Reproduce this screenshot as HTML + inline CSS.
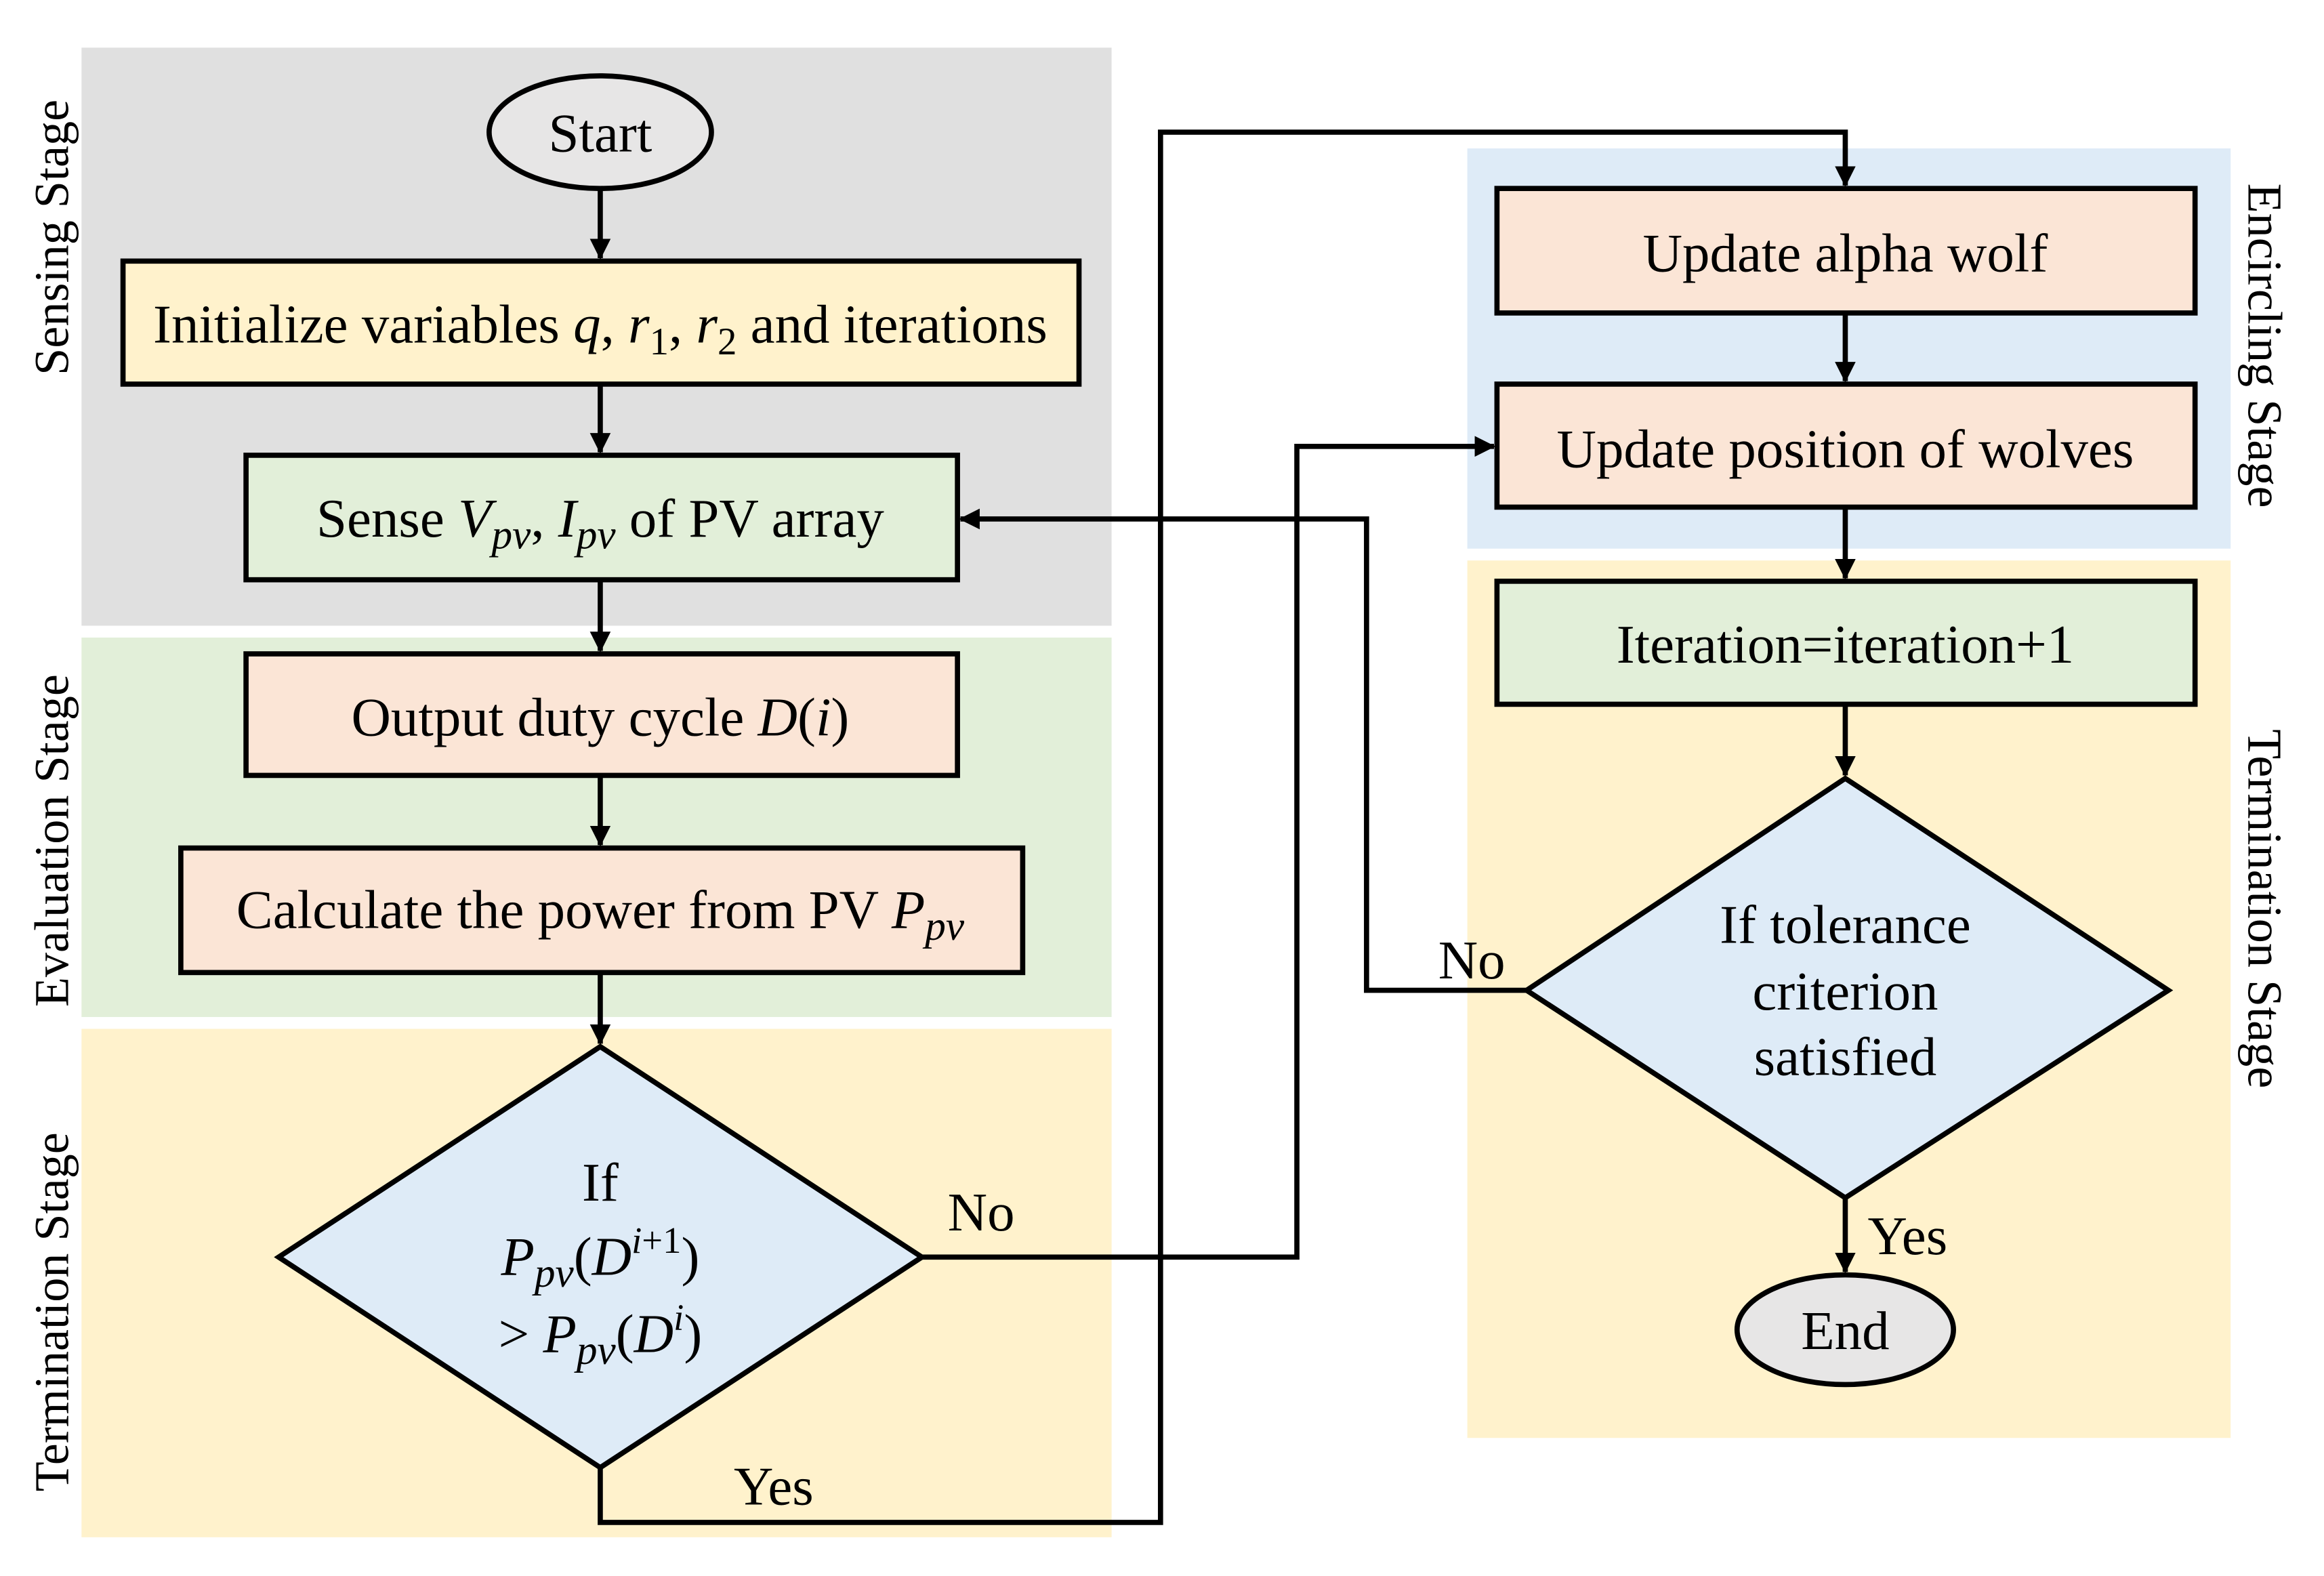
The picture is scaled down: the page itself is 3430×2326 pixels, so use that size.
<!DOCTYPE html>
<html><head><meta charset="utf-8"><style>
html,body{margin:0;padding:0;background:#fff;}
svg{display:block;}
text{font-family:"Liberation Serif",serif;font-size:37px;fill:#000;}
.s{font-size:33px;}
.i{font-style:italic;}
</style></head><body>
<svg width="3430" height="2326" viewBox="0 0 1568 1063" xmlns="http://www.w3.org/2000/svg">
<defs>
<marker id="b" markerWidth="14" markerHeight="14" refX="13" refY="7" orient="auto" markerUnits="userSpaceOnUse" viewBox="0 0 14 14"><path d="M0,0 L14,7 L0,14 z" fill="#000"/></marker></defs>
<rect width="1568" height="1063" fill="#fff"/>
<rect x="55" y="32" width="695" height="390" fill="#e0e0e0"/>
<rect x="55" y="430" width="695" height="256" fill="#e2efd9"/>
<rect x="55" y="694" width="695" height="343" fill="#fff2cc"/>
<rect x="990" y="100" width="515" height="270" fill="#deebf7"/>
<rect x="990" y="378" width="515" height="592" fill="#fff2cc"/>
<text class="s" transform="translate(46,160) rotate(-90)" text-anchor="middle">Sensing Stage</text>
<text class="s" transform="translate(46,567) rotate(-90)" text-anchor="middle">Evaluation Stage</text>
<text class="s" transform="translate(46,885) rotate(-90)" text-anchor="middle">Termination Stage</text>
<text class="s" transform="translate(1517,233) rotate(90)" text-anchor="middle">Encircling Stage</text>
<text class="s" transform="translate(1517,613) rotate(90)" text-anchor="middle">Termination Stage</text>
<g stroke="#000" stroke-width="3.5" fill="none">
<line x1="405" y1="127" x2="405" y2="174" marker-end="url(#b)"/>
<line x1="405" y1="260" x2="405" y2="305" marker-end="url(#b)"/>
<line x1="405" y1="392" x2="405" y2="439" marker-end="url(#b)"/>
<line x1="405" y1="524" x2="405" y2="570" marker-end="url(#b)"/>
<line x1="405" y1="657" x2="405" y2="704" marker-end="url(#b)"/>
<polyline points="405,990 405,1027 783,1027 783,89 1245,89 1245,125" marker-end="url(#b)"/>
<polyline points="622,848 875,848 875,301 1008,301" marker-end="url(#b)"/>
<line x1="1245" y1="212" x2="1245" y2="257" marker-end="url(#b)"/>
<line x1="1245" y1="343" x2="1245" y2="390" marker-end="url(#b)"/>
<line x1="1245" y1="476" x2="1245" y2="523" marker-end="url(#b)"/>
<polyline points="1030,668 922,668 922,350 648,350" marker-end="url(#b)"/>
<line x1="1245" y1="808" x2="1245" y2="858" marker-end="url(#b)"/>
</g>
<g stroke="#000" stroke-width="3.5">
<ellipse cx="405" cy="89" rx="75" ry="38" fill="#e7e6e6"/>
<rect x="83" y="176" width="645" height="83" fill="#fff2cc"/>
<rect x="166" y="307" width="480" height="84" fill="#e2efd9"/>
<rect x="166" y="441" width="480" height="82" fill="#fbe5d6"/>
<rect x="122" y="572" width="568" height="84" fill="#fbe5d6"/>
<polygon points="405,706 622,848 405,990 188,848" fill="#deebf7"/>
<rect x="1010" y="127" width="471" height="84" fill="#fbe5d6"/>
<rect x="1010" y="259" width="471" height="83" fill="#fbe5d6"/>
<rect x="1010" y="392" width="471" height="83" fill="#e2efd9"/>
<polygon points="1245,525 1463,668 1245,808 1030,668" fill="#deebf7"/>
<ellipse cx="1245" cy="897" rx="73" ry="37" fill="#e7e6e6"/>
</g>
<text x="405" y="102" text-anchor="middle">Start</text>
<text x="405" y="231" text-anchor="middle">Initialize variables <tspan class="i">q</tspan>, <tspan class="i">r</tspan><tspan font-size="26" dy="8">1</tspan><tspan dy="-8">, </tspan><tspan class="i">r</tspan><tspan font-size="26" dy="8">2</tspan><tspan dy="-8"> and iterations</tspan></text>
<text x="405" y="362" text-anchor="middle">Sense <tspan class="i">V</tspan><tspan class="i" font-size="28" dy="8">pv</tspan><tspan dy="-8">, </tspan><tspan class="i">I</tspan><tspan class="i" font-size="28" dy="8">pv</tspan><tspan dy="-8"> of PV array</tspan></text>
<text x="405" y="496" text-anchor="middle">Output duty cycle <tspan class="i">D</tspan>(<tspan class="i">i</tspan>)</text>
<text x="405" y="626" text-anchor="middle">Calculate the power from PV <tspan class="i">P</tspan><tspan class="i" font-size="28" dy="8">pv</tspan></text>
<text x="405" y="810" text-anchor="middle">If</text>
<text x="405" y="860" text-anchor="middle"><tspan class="i">P</tspan><tspan class="i" font-size="28" dy="8">pv</tspan><tspan dy="-8">(</tspan><tspan class="i">D</tspan><tspan class="i" font-size="25" dy="-15">i</tspan><tspan font-size="25">+1</tspan><tspan dy="15">)</tspan></text>
<text x="405" y="912" text-anchor="middle">&gt; <tspan class="i">P</tspan><tspan class="i" font-size="28" dy="8">pv</tspan><tspan dy="-8">(</tspan><tspan class="i">D</tspan><tspan class="i" font-size="25" dy="-15">i</tspan><tspan dy="15">)</tspan></text>
<text x="1245" y="183" text-anchor="middle">Update alpha wolf</text>
<text x="1245" y="315" text-anchor="middle">Update position of wolves</text>
<text x="1245" y="447" text-anchor="middle">Iteration=iteration+1</text>
<text x="1245" y="636" text-anchor="middle">If tolerance</text>
<text x="1245" y="681" text-anchor="middle">criterion</text>
<text x="1245" y="725" text-anchor="middle">satisfied</text>
<text x="1245" y="910" text-anchor="middle">End</text>
<text x="662" y="830" text-anchor="middle">No</text>
<text x="522" y="1015" text-anchor="middle">Yes</text>
<text x="993" y="660" text-anchor="middle">No</text>
<text x="1287" y="846" text-anchor="middle">Yes</text>
</svg>
</body></html>
